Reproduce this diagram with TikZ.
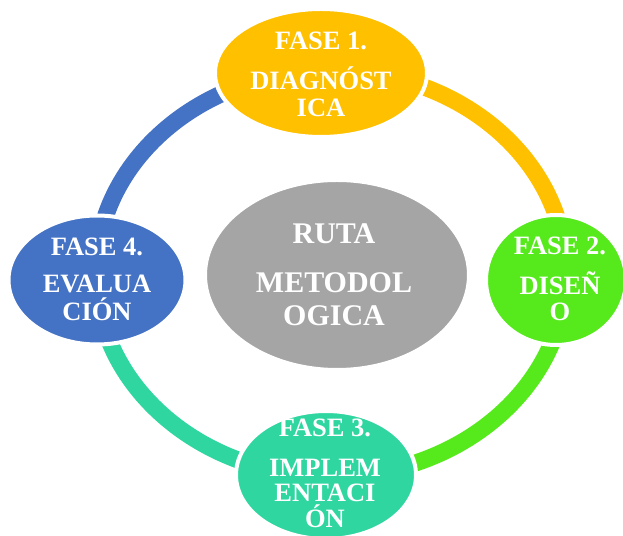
\documentclass[tikz,border=0pt]{standalone}
\usepackage{fontspec}
\setmainfont{Liberation Serif}
\usetikzlibrary{shapes.geometric}
\definecolor{cgold}{HTML}{FFC000}
\definecolor{clime}{HTML}{56EA1C}
\definecolor{cteal}{HTML}{2FD6A0}
\definecolor{cblue}{HTML}{4472C4}
\definecolor{cgray}{HTML}{A5A5A5}
\newcommand\stacklines[2]{\vtop{\baselineskip=#1\lineskiplimit=-100pt\lineskip=0pt\halign{\hfil##\hfil\cr#2\crcr}}}
\begin{document}
\begin{tikzpicture}[x=1pt,y=1pt,
  phase/.style={ellipse, draw=white, line width=4pt, inner sep=0pt},
  ringarc/.style={line width=17pt},
  txt/.style={anchor=base, inner sep=0pt, text=white, font=\bfseries\fontsize{26.5}{27}\selectfont},
  bigtxt/.style={txt, font=\bfseries\fontsize{30}{33}\selectfont}]
\useasboundingbox (0,0) rectangle (623,535);
\clip (0,0) rectangle (623,535);
\coordinate (rc) at (331,261.5);
\coordinate (rT) at ([shift={(90:235pt and 203pt)}]rc);
\coordinate (rR) at ([shift={(0:235pt and 203pt)}]rc);
\coordinate (rB) at ([shift={(-90:235pt and 203pt)}]rc);
\coordinate (rL) at ([shift={(180:235pt and 203pt)}]rc);
\draw[ringarc, cgold] (rT) arc[start angle=90, end angle=0, x radius=235pt, y radius=203pt];
\draw[ringarc, clime] (rR) arc[start angle=0, end angle=-90, x radius=235pt, y radius=203pt];
\draw[ringarc, cteal] (rB) arc[start angle=270, end angle=180, x radius=235pt, y radius=203pt];
\draw[ringarc, cblue] (rL) arc[start angle=180, end angle=90, x radius=235pt, y radius=203pt];
\node[phase, fill=cgold, minimum width=212pt, minimum height=128pt] (p1) at (321,462) {};
\node[phase, fill=clime, minimum width=140pt, minimum height=130pt] (p2) at (556,255) {};
\node[phase, fill=cteal, minimum width=180pt, minimum height=128pt] (p3) at (326,60) {};
\node[phase, fill=cblue, minimum width=177pt, minimum height=129pt] (p4) at (97,255) {};
\node[phase, fill=cgray, minimum width=264pt, minimum height=190pt] (p0) at (337,260) {};
\node[txt] (t1) at (321,485) {\stacklines{27pt}{FASE 1.\cr\noalign{\vskip13pt}DIAGNÓST\cr ICA}};
\node[txt] (t2) at (560,280) {\stacklines{26.5pt}{FASE 2.\cr\noalign{\vskip13pt}DISEÑ\cr O}};
\node[txt] (t3) at (325,98) {\stacklines{26pt}{FASE 3.\cr\noalign{\vskip13pt}IMPLEM\cr ENTACI\cr ÓN}};
\node[txt] (t4) at (97,279) {\stacklines{28pt}{FASE 4.\cr\noalign{\vskip9pt}EVALUA\cr CIÓN}};
\node[bigtxt] (t0) at (334,291) {\stacklines{33pt}{RUTA\cr\noalign{\vskip16pt}METODOL\cr OGICA}};
\end{tikzpicture}
\end{document}
